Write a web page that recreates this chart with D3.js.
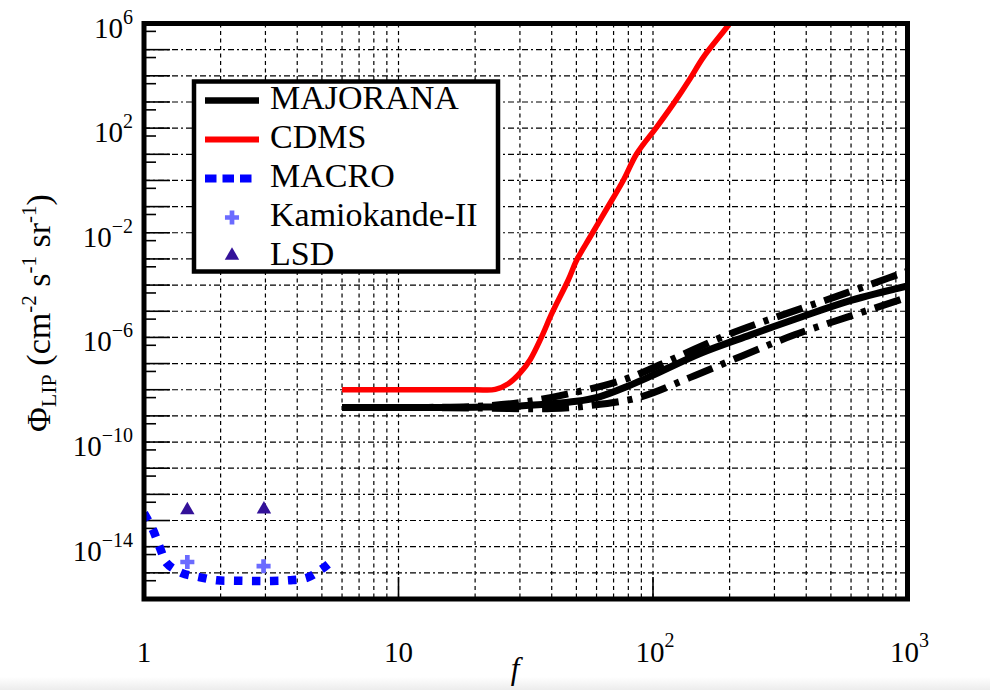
<!DOCTYPE html>
<html><head><meta charset="utf-8">
<script src="https://cdn.jsdelivr.net/npm/d3@7"></script>
<style>body{margin:0;background:#fff} svg{display:block}</style>
</head><body>
<svg id="c" width="990" height="690"></svg>
<script>
// ---------------- data ----------------
const cdmsF = [6, 12, 20, 24, 27, 30, 32.9, 36.5, 40, 46.5, 50.1, 56.6, 65.8, 76.4, 86.3, 103.4, 120.2, 139.8, 157.6, 195, 205];
const cdmsV = [1e-8, 1e-8, 1e-8, 1.03e-8, 1.7e-8, 4.3e-8, 1.4e-7, 1.05e-6, 8.1e-6, 1.6e-4, 8.9e-4, 6.9e-3, 8.3e-2, 1.0, 10.5, 110, 850, 7.8e3, 5.1e4, 7.2e5, 1.4e6];

const majF = [6, 12, 20, 30, 50, 62, 80, 98, 154, 242, 380, 600, 1000];
const majV = [2.1e-9, 2.1e-9, 2.15e-9, 2.4e-9, 3.6e-9, 5.5e-9, 1.4e-8, 3.3e-8, 2.5e-7, 1.25e-6, 5.9e-6, 2.6e-5, 9.3e-5];

const majUpF = [6, 12, 20, 30, 46, 77.5, 123, 194, 321, 527, 847, 1000];
const majUpV = [2.1e-9, 2.1e-9, 2.3e-9, 3.2e-9, 6.8e-9, 2.5e-8, 1.7e-7, 1.2e-6, 7.1e-6, 3.7e-5, 1.9e-4, 3.4e-4];

const majLoF = [6, 12, 20, 40, 55, 87.6, 139.5, 225, 360, 596, 1000];
const majLoV = [2.1e-9, 2.1e-9, 2.0e-9, 1.9e-9, 2.4e-9, 5.0e-9, 2.9e-8, 2.0e-7, 1.26e-6, 6.5e-6, 3.4e-5];

const macroF = [1.0, 1.085, 1.156, 1.231, 1.41, 1.644, 1.935, 2.28, 2.68, 3.16, 3.72, 4.37, 5.0, 5.53];
const macroV = [1.9e-13, 4.4e-14, 8.9e-15, 2.3e-15, 9.8e-16, 6.9e-16, 5.2e-16, 5.0e-16, 4.9e-16, 4.9e-16, 5.2e-16, 6.5e-16, 1.4e-15, 3.1e-15];

const kamF = [1.48, 2.95];
const kamV = [2.6e-15, 1.8e-15];

const lsdF = [1.48, 2.96];
const lsdV = [2.5e-13, 2.7e-13];

const yLabelExp = [6, 2, -2, -6, -10, -14];
const xLabels = [{v: 1, base: "1", sup: ""}, {v: 10, base: "10", sup: ""}, {v: 100, base: "10", sup: "2"}, {v: 1000, base: "10", sup: "3"}];
const legendItems = ["MAJORANA", "CDMS", "MACRO", "Kamiokande-II", "LSD"];

// ---------------- setup ----------------
const X0 = 144, X1 = 907.5, Y0 = 23.5, Y1 = 599;
const FONT = "'Liberation Serif', 'Times New Roman', serif";
const x = d3.scaleLog().domain([1, 1000]).range([X0, X1]);
const y = d3.scaleLog().domain([1e-16, 1e6]).range([Y1, Y0]);
const svg = d3.select("#c");

const defs = svg.append("defs");
const grad = defs.append("linearGradient").attr("id", "bg").attr("x1", 0).attr("x2", 0).attr("y1", 0).attr("y2", 1);
grad.append("stop").attr("offset", "0").attr("stop-color", "#ffffff");
grad.append("stop").attr("offset", "1").attr("stop-color", "#ececec");
svg.append("rect").attr("x", 0).attr("y", 0).attr("width", 990).attr("height", 690).attr("fill", "#fff");
svg.append("rect").attr("x", 0).attr("y", 677).attr("width", 990).attr("height", 13).attr("fill", "url(#bg)");

defs.append("clipPath").attr("id", "clip").append("rect")
  .attr("x", X0).attr("y", Y0).attr("width", X1 - X0).attr("height", Y1 - Y0);

// ---------------- grid ----------------
const grid = svg.append("g");
const decY = d3.range(-15, 6).map(e => Math.pow(10, e));
grid.selectAll("line.h").data(decY).join("line").attr("class", "h")
  .attr("x1", X0).attr("x2", X1).attr("y1", d => y(d)).attr("y2", d => y(d))
  .attr("stroke", "#000").attr("stroke-width", 1.2).attr("stroke-dasharray", "6,3,2,3");

const vx = [];
[1, 10, 100].forEach(p => { for (let m = 2; m <= 9; m++) vx.push(m * p); });
vx.push(10, 100);
grid.selectAll("line.v").data(vx).join("line").attr("class", "v")
  .attr("x1", d => x(d)).attr("x2", d => x(d)).attr("y1", Y0).attr("y2", Y1)
  .attr("stroke", "#000").attr("stroke-width", 1.2).attr("stroke-dasharray", "4,3.5");

// axis ticks
const ticks = svg.append("g").attr("stroke", "#000").attr("stroke-width", 1.6);
ticks.selectAll("line.ym").data(decY).join("line")
  .attr("x1", X0).attr("x2", X0 + 26).attr("y1", d => y(d)).attr("y2", d => y(d));
const minY = d3.range(-16, 6).map(e => 5 * Math.pow(10, e));
ticks.selectAll("line.yn").data(minY).join("line")
  .attr("x1", X0).attr("x2", X0 + 12).attr("y1", d => y(d)).attr("y2", d => y(d));
ticks.selectAll("line.xm").data([10, 100]).join("line")
  .attr("x1", d => x(d)).attr("x2", d => x(d)).attr("y1", Y1).attr("y2", Y1 - 22);

// ---------------- data marks ----------------
const plot = svg.append("g").attr("clip-path", "url(#clip)");
const line = d3.line().x(d => x(d[0])).y(d => y(d[1])).curve(d3.curveCatmullRom.alpha(0.5));
const zip = (a, b) => a.map((v, i) => [v, b[i]]);

plot.append("path").datum(zip(macroF, macroV)).attr("d", line)
  .attr("fill", "none").attr("stroke", "#0000ff").attr("stroke-width", 8.5)
  .attr("stroke-dasharray", "8.5,9.5");

plot.append("path").datum(zip(cdmsF, cdmsV)).attr("d", line)
  .attr("fill", "none").attr("stroke", "#ff0000").attr("stroke-width", 5.5).attr("stroke-linejoin", "round");

[[majUpF, majUpV], [majLoF, majLoV]].forEach(([f, v]) => {
  plot.append("path").datum(zip(f, v)).attr("d", line)
    .attr("fill", "none").attr("stroke", "#000").attr("stroke-width", 7)
    .attr("stroke-dasharray", "27,9,5,9");
});
plot.append("path").datum(zip(majF, majV)).attr("d", line)
  .attr("fill", "none").attr("stroke", "#000").attr("stroke-width", 7);

const cross = d3.symbol().type(d3.symbolCross).size(110);
const tri = d3.symbol().type(d3.symbolTriangle).size(90);
plot.selectAll("path.kam").data(zip(kamF, kamV)).join("path").attr("class", "kam")
  .attr("d", cross).attr("transform", d => `translate(${x(d[0])},${y(d[1])})`).attr("fill", "#6b6bff");
plot.selectAll("path.lsd").data(zip(lsdF, lsdV)).join("path").attr("class", "lsd")
  .attr("d", tri).attr("transform", d => `translate(${x(d[0])},${y(d[1])})`).attr("fill", "#331199");

// ---------------- frame ----------------
svg.append("rect").attr("x", X0).attr("y", Y0).attr("width", X1 - X0).attr("height", Y1 - Y0)
  .attr("fill", "none").attr("stroke", "#000").attr("stroke-width", 5);

// ---------------- tick labels ----------------
const yl = svg.append("g").style("font-family", FONT).attr("fill", "#000");
yLabelExp.forEach(e => {
  const t = yl.append("text").attr("x", 133).attr("y", y(Math.pow(10, e)) + 14)
    .attr("text-anchor", "end").attr("font-size", 29).text("10");
  t.append("tspan").attr("font-size", 20).attr("dy", -14).text(e < 0 ? "\u2212" + (-e) : String(e));
});
xLabels.forEach(d => {
  const t = yl.append("text").attr("x", x(d.v) + (d.sup ? 2 : 0)).attr("y", 662)
    .attr("text-anchor", "middle").attr("font-size", 29).text(d.base);
  if (d.sup) t.append("tspan").attr("font-size", 20).attr("dy", -15).text(d.sup);
});
yl.append("text").attr("x", 515).attr("y", 679).attr("text-anchor", "middle")
  .attr("font-size", 31).attr("font-style", "italic").text("f");

// y title
const yt = yl.append("text").attr("transform", "translate(50,432) rotate(-90)").attr("font-size", 34);
yt.append("tspan").text("\u03A6");
yt.append("tspan").attr("font-size", 22).attr("dy", 6).text("LIP");
yt.append("tspan").attr("dy", -6).text(" (cm");
yt.append("tspan").attr("font-size", 21).attr("dy", -14).text("-2");
yt.append("tspan").attr("dy", 14).text(" s");
yt.append("tspan").attr("font-size", 21).attr("dy", -14).text("-1");
yt.append("tspan").attr("dy", 14).text(" sr");
yt.append("tspan").attr("font-size", 21).attr("dy", -14).text("-1");
yt.append("tspan").attr("dy", 14).text(")");

// ---------------- legend ----------------
const lg = svg.append("g");
lg.append("rect").attr("x", 194).attr("y", 81.5).attr("width", 304).attr("height", 190)
  .attr("fill", "#fff").attr("stroke", "#000").attr("stroke-width", 4.5);
const rowY = i => 100.5 + i * 39;
lg.append("line").attr("x1", 205).attr("x2", 259).attr("y1", rowY(0)).attr("y2", rowY(0))
  .attr("stroke", "#000").attr("stroke-width", 6.5);
lg.append("line").attr("x1", 205).attr("x2", 259).attr("y1", rowY(1)).attr("y2", rowY(1))
  .attr("stroke", "#ff0000").attr("stroke-width", 6);
lg.append("line").attr("x1", 205).attr("x2", 252).attr("y1", rowY(2)).attr("y2", rowY(2))
  .attr("stroke", "#0000ff").attr("stroke-width", 8).attr("stroke-dasharray", "11.5,6");
lg.append("path").attr("d", cross).attr("transform", `translate(232,${rowY(3)})`).attr("fill", "#6b6bff");
lg.append("path").attr("d", tri).attr("transform", `translate(232,${rowY(4) - 1})`).attr("fill", "#331199");
lg.selectAll("text").data(legendItems).join("text")
  .attr("x", 270).attr("y", (d, i) => rowY(i) + 8.5)
  .style("font-family", FONT).attr("font-size", 34).text(d => d);
</script>
</body></html>
